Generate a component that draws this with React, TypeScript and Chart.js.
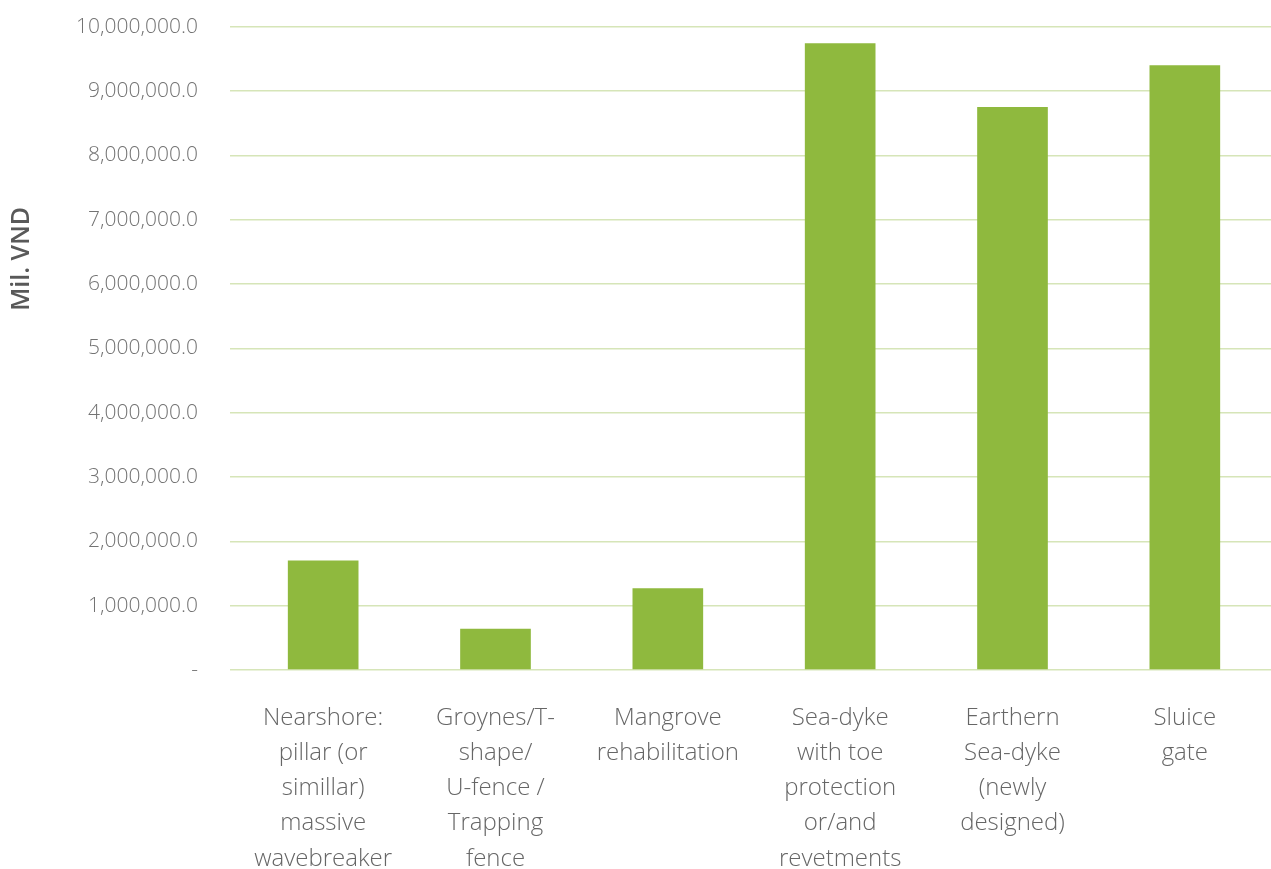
import React, { useEffect, useRef } from "react";
import { Chart, registerables } from "chart.js";

Chart.register(...registerables);

const categories: string[][] = [
  ["Nearshore:", "pillar (or", "simillar)", "massive", "wavebreaker"],
  ["Groynes/T-", "shape/", "U-fence /", "Trapping", "fence"],
  ["Mangrove", "rehabilitation"],
  ["Sea-dyke", "with toe", "protection", "or/and", "revetments"],
  ["Earthern", "Sea-dyke", "(newly", "designed)"],
  ["Sluice", "gate"],
];
const values: number[] = [1700000, 640000, 1270000, 9740000, 8750000, 9400000];
const yTitle = "Mil. VND";

const fmt = (v: number) =>
  v === 0
    ? "-"
    : v.toLocaleString("en-US", { minimumFractionDigits: 1, maximumFractionDigits: 1 });

const SHIFT = 18;

export default function App() {
  const ref = useRef<HTMLCanvasElement | null>(null);
  useEffect(() => {
    document.body.style.margin = "0";
    if (!ref.current) return;
    const titlePlugin = {
      id: "yTitlePlugin",
      afterDraw(chart: any) {
        const { ctx, chartArea } = chart;
        ctx.save();
        ctx.translate(22, chartArea.top + (chartArea.bottom - chartArea.top) * 0.361);
        ctx.rotate(-Math.PI / 2);
        ctx.font = "600 25px 'Open Sans'";
        ctx.fillStyle = "#595959";
        ctx.textAlign = "center";
        ctx.textBaseline = "middle";
        ctx.fillText(yTitle, 0, 0);
        ctx.restore();
      },
    };
    const chart = new Chart(ref.current, {
      type: "bar",
      data: {
        labels: categories,
        datasets: [
          {
            data: values,
            backgroundColor: "#8fb93e",
            categoryPercentage: 1,
            barPercentage: 0.41,
          },
        ],
      },
      options: {
        animation: false,
        responsive: false,
        maintainAspectRatio: false,
        layout: { padding: { top: 10, right: 0, bottom: 0, left: 0 } },
        plugins: { legend: { display: false }, tooltip: { enabled: false } },
        scales: {
          x: {
            grid: { display: false },
            border: { display: false },
            ticks: {
              color: "#666666",
              font: { family: "'Open Sans'", size: 24, weight: "300", lineHeight: 1.46 },
              padding: 23,
              maxRotation: 0,
              autoSkip: false,
            },
            afterFit: (s: any) => {
              s.height = 199;
            },
          },
          y: {
            min: 0,
            max: 10000000,
            border: { display: false },
            grid: { color: "#d6e5b8", lineWidth: 1.5, tickLength: 7 },
            ticks: {
              stepSize: 1000000,
              color: "#737373",
              font: { family: "'Open Sans'", size: 21, weight: "300" },
              padding: 32,
              callback: (v: any) => fmt(Number(v)),
            },
            afterFit: (s: any) => {
              s.width = 237;
            },
          },
        },
      },
      plugins: [titlePlugin],
    });
    return () => chart.destroy();
  }, []);
  return (
    <div style={{ width: 1271, height: 869, overflow: "hidden", position: "relative" }}>
      <canvas
        ref={ref}
        width={1271}
        height={869 + SHIFT}
        style={{ display: "block", position: "absolute", left: 0, top: -SHIFT }}
      />
    </div>
  );
}
